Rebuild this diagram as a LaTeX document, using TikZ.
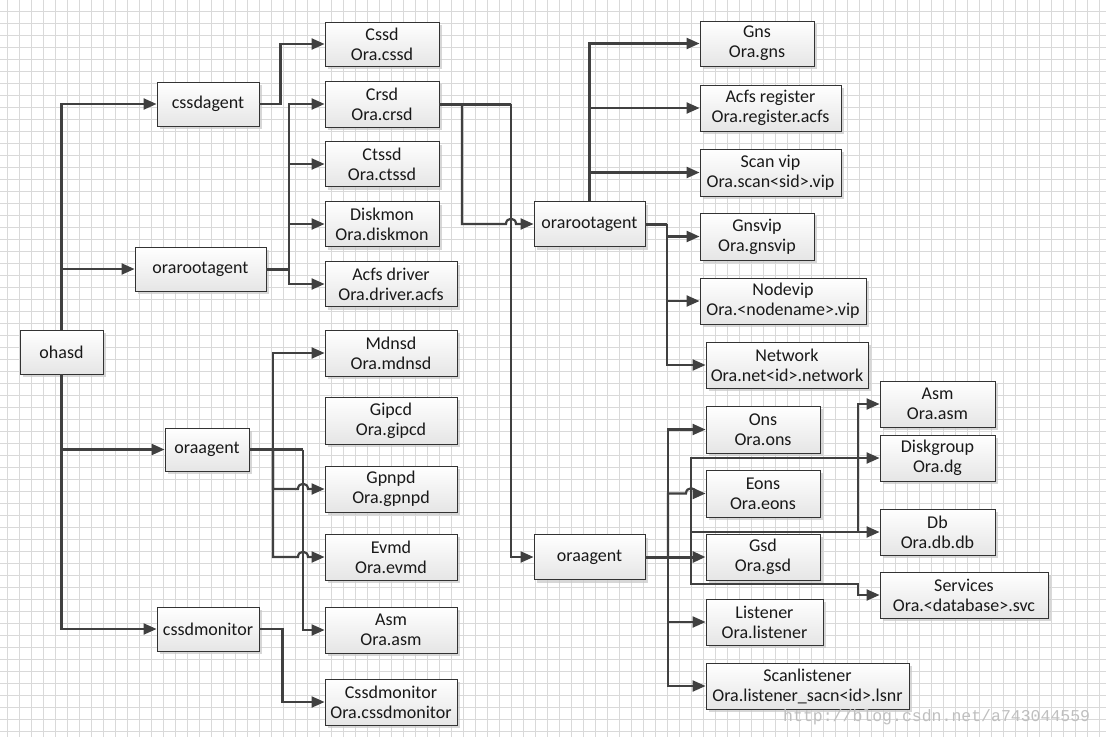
\documentclass[tikz,border=0pt]{standalone}
\usepackage{fontspec}
\setmainfont{Carlito}
\newfontfamily\wmfont{Liberation Mono}
\usetikzlibrary{arrows.meta,shadows}
\begin{document}
\begin{tikzpicture}[x=1pt,y=-1pt,
  box/.style={draw=black!80, line width=0.9pt, top color=white, bottom color=black!10,
    drop shadow={shadow xshift=3pt,shadow yshift=-3pt,fill=black!22,opacity=0.7},
    align=center, inner sep=0pt, font=\fontsize{18}{20}\selectfont, text=black!90},
  ln/.style={draw=black!75, line width=2.2pt},
  fat/.style={ln, line width=3pt},
  arr/.style={ln, -{Triangle[length=13pt,width=11pt]}},
  gridline/.style={draw=black!15, line width=0.8pt}]
\fill[white] (0,0) rectangle (1106,737);
\useasboundingbox (0,0) rectangle (1106,737);
\foreach \x in {7,19,...,1106} \draw[gridline] (\x,0) -- (\x,737);
\foreach \y in {11,23,...,737} \draw[gridline] (0,\y) -- (1106,\y);

% nodes
\node[box, minimum width=83pt, minimum height=44pt] (ohasd) at (61.5,352) {ohasd};
\node[box, minimum width=102pt, minimum height=44pt] (cssdagent) at (208,104) {cssdagent};
\node[box, minimum width=131pt, minimum height=44pt] (lroot) at (200.5,269) {orarootagent};
\node[box, minimum width=84pt, minimum height=43pt] (lora) at (207,449.5) {oraagent};
\node[box, minimum width=102pt, minimum height=44pt] (cssdmon) at (208,629) {cssdmonitor};

\node[box, minimum width=114pt, minimum height=44pt] (cssd) at (382,44) {Cssd\\Ora.cssd};
\node[box, minimum width=114pt, minimum height=46pt] (crsd) at (382,104) {Crsd\\Ora.crsd};
\node[box, minimum width=114pt, minimum height=45pt] (ctssd) at (382,164) {Ctssd\\Ora.ctssd};
\node[box, minimum width=114pt, minimum height=45pt] (diskmon) at (382,224) {Diskmon\\Ora.diskmon};
\node[box, minimum width=132pt, minimum height=45pt] (acfsdrv) at (391,284) {Acfs driver\\Ora.driver.acfs};
\node[box, minimum width=132pt, minimum height=46pt] (mdnsd) at (391,353) {Mdnsd\\Ora.mdnsd};
\node[box, minimum width=132pt, minimum height=47pt] (gipcd) at (391,420.5) {Gipcd\\Ora.gipcd};
\node[box, minimum width=132pt, minimum height=46pt] (gpnpd) at (391,489) {Gpnpd\\Ora.gpnpd};
\node[box, minimum width=132pt, minimum height=46pt] (evmd) at (391,557) {Evmd\\Ora.evmd};
\node[box, minimum width=132pt, minimum height=46pt] (asma) at (391,630) {Asm\\Ora.asm};
\node[box, minimum width=132pt, minimum height=46pt] (cssdmonb) at (391,702) {Cssdmonitor\\Ora.cssdmonitor};

\node[box, minimum width=111pt, minimum height=45pt] (rroot) at (589.5,224) {orarootagent};
\node[box, minimum width=111pt, minimum height=45pt] (rora) at (589.5,557) {oraagent};

\node[box, minimum width=114pt, minimum height=45pt] (gns) at (757,43.5) {Gns\\Ora.gns};
\node[box, minimum width=141pt, minimum height=46pt] (acfsreg) at (770.5,108) {Acfs register\\Ora.register.acfs};
\node[box, minimum width=141pt, minimum height=47pt] (scanvip) at (770.5,172.5) {Scan vip\\Ora.scan<sid>.vip};
\node[box, minimum width=114pt, minimum height=47pt] (gnsvip) at (757,236.5) {Gnsvip\\Ora.gnsvip};
\node[box, minimum width=166pt, minimum height=46pt] (nodevip) at (783,301) {Nodevip\\Ora.<nodename>.vip};
\node[box, minimum width=162pt, minimum height=46pt] (network) at (787,365) {Network\\Ora.net<id>.network};

\node[box, minimum width=114pt, minimum height=47pt] (ons) at (763,429.5) {Ons\\Ora.ons};
\node[box, minimum width=114pt, minimum height=47pt] (eons) at (763,493.5) {Eons\\Ora.eons};
\node[box, minimum width=114pt, minimum height=46pt] (gsd) at (763,557) {Gsd\\Ora.gsd};
\node[box, minimum width=117pt, minimum height=46pt] (listener) at (764.5,622) {Listener\\Ora.listener};
\node[box, minimum width=203pt, minimum height=46pt] (scanl) at (807.5,686) {Scanlistener\\Ora.listener\_sacn<id>.lsnr};

\node[box, minimum width=115pt, minimum height=46pt] (asmb) at (937.5,404) {Asm\\Ora.asm};
\node[box, minimum width=115pt, minimum height=46pt] (dg) at (937.5,458) {Diskgroup\\Ora.dg};
\node[box, minimum width=115pt, minimum height=46pt] (db) at (937.5,532) {Db\\Ora.db.db};
\node[box, minimum width=168pt, minimum height=46pt] (services) at (964,595) {Services\\Ora.<database>.svc};

% junction coordinates
\coordinate (j1) at (289,269);
\coordinate (j2) at (303,449.5);
\coordinate (j2a) at (273,449.5);
\coordinate (j3) at (462,104);
\coordinate (j4) at (511,104);
\coordinate (j5) at (667,224);
\coordinate (j6) at (668,557);
\coordinate (j7) at (691,557);
\coordinate (j8) at (858,532);
\coordinate (j9) at (858,584);

% ohasd
\draw[arr] (ohasd.north) |- (cssdagent.west);
\draw[arr] (ohasd.north) |- (lroot.west);
\draw[arr] (ohasd.south) |- (lora.west);
\draw[arr] (ohasd.south) |- (cssdmon.west);

% cssdagent
\draw[arr] (cssdagent.east) -- ++(21,0) |- (cssd.west);

% left orarootagent
\draw[fat] (lroot.east) -- (j1);
\draw[arr] (j1) |- (crsd.west);
\draw[arr] (j1) |- (ctssd.west);
\draw[arr] (j1) |- (diskmon.west);
\draw[arr] (j1) |- (acfsdrv.west);

% left oraagent
\draw[fat] (lora.east) -- (j2);
\draw[arr] (j2) |- (asma.west);
\draw[arr] (j2a) |- (mdnsd.west);
\draw[arr] (j2a) |- (298,489) .. controls (298,482) and (308,482) .. (308,489) -- (gpnpd.west);
\draw[arr] (j2a) |- (298,557) .. controls (298,550) and (308,550) .. (308,557) -- (evmd.west);

% cssdmonitor
\draw[arr] (cssdmon.east) -- ++(23,0) |- (cssdmonb.west);

% crsd
\draw[fat] (crsd.east) -- (j4);
\draw[arr] (j4) |- (rora.west);
\draw[arr] (j3) |- (506,224) .. controls (506,217) and (516,217) .. (516,224) -- (rroot.west);

% right orarootagent
\draw[arr] (rroot.north) |- (gns.west);
\draw[arr] (rroot.north) |- (acfsreg.west);
\draw[arr] (rroot.north) |- (scanvip.west);
\draw[fat] (rroot.east) -- (j5);
\draw[arr] (j5) |- (gnsvip.west);
\draw[arr] (j5) |- (nodevip.west);
\draw[arr] (j5) |- (network.west);

% right oraagent
\draw[arr, line width=3pt] (rora.east) -- (gsd.west);
\draw[arr] (j6) |- (ons.west);
\draw[arr] (j6) |- (686,493.5) .. controls (686,486.5) and (696,486.5) .. (696,493.5) -- (eons.west);
\draw[arr] (j6) |- (listener.west);
\draw[arr] (j6) |- (scanl.west);
\draw[arr] (j7) |- (dg.west);
\draw[arr] (j7) |- (db.west);
\draw[arr] (j7) |- (j9) |- (services.west);
\draw[arr] (j8) |- (asmb.west);

% watermark
\node[anchor=west, inner sep=0pt, font=\wmfont\fontsize{16.5}{18}\selectfont, text=black!25] (wm) at (783,717) {http://blog.csdn.net/a743044559};
\end{tikzpicture}
\end{document}
